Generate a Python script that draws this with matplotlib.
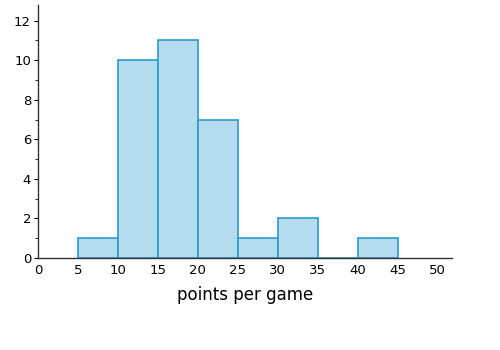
import numpy as np
import matplotlib.pyplot as plt
from matplotlib.ticker import MultipleLocator

bin_edges = [5, 10, 15, 20, 25, 30, 35, 40, 45]
counts = [1, 10, 11, 7, 1, 2, 0, 1]
x_ticks = [0, 5, 10, 15, 20, 25, 30, 35, 40, 45, 50]
y_ticks = [0, 2, 4, 6, 8, 10, 12]

plt.rcParams['font.family'] = ['DejaVu Sans']

fig = plt.figure(figsize=(5, 3.5), dpi=100)
ax = fig.add_axes([0.076, 0.263, 0.828, 0.723])

ax.hist(bin_edges[:-1], bins=bin_edges, weights=counts,
        color='#b4dcee', edgecolor='#2b9bc9', linewidth=1.2)

ax.set_xlim(0, 51.8)
ax.set_ylim(0, 12.8)
ax.set_xticks(x_ticks)
ax.set_yticks(y_ticks)
ax.yaxis.set_minor_locator(MultipleLocator(1))
ax.tick_params(axis='x', length=0, labelsize=9.5, pad=4)
ax.tick_params(axis='y', which='major', length=3, labelsize=9.5, pad=2)
ax.tick_params(axis='y', which='minor', length=2)
for s in ['top', 'right']:
    ax.spines[s].set_visible(False)
for s in ['left', 'bottom']:
    ax.spines[s].set_color('#333333')
    ax.spines[s].set_linewidth(1.0)

ax.set_xlabel('points per game', fontsize=12, labelpad=7)

fig.savefig('out.png', dpi=100)
